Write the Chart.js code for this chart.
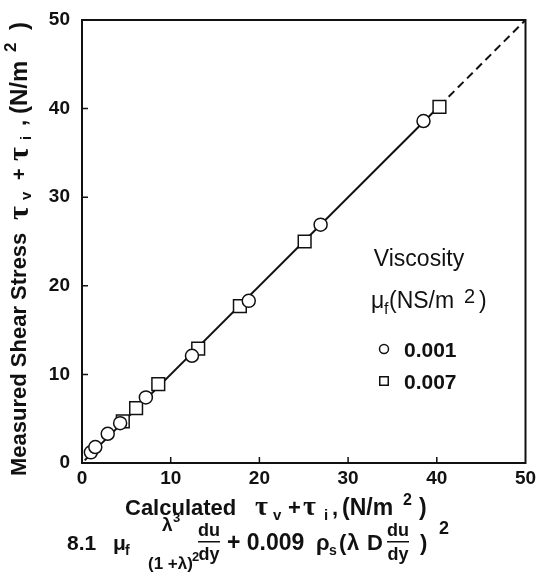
<!DOCTYPE html>
<html>
<head>
<meta charset="utf-8">
<script src="https://cdn.jsdelivr.net/npm/chart.js@4.4.1/dist/chart.umd.min.js"></script>
<style>
  html, body { margin: 0; padding: 0; background: #fff; }
  #wrap { width: 536px; height: 581px; }
</style>
</head>
<body>
<div id="wrap"><canvas id="shearChart" width="536" height="581"></canvas></div>
<script>
// valori
const circleX = [1.0, 1.5, 2.9, 4.3, 7.2, 12.4, 18.8, 26.9, 38.5];
const circleY = [1.2, 1.8, 3.3, 4.5, 7.4, 12.1, 18.3, 26.9, 38.6];
const squareX = [4.6, 6.1, 8.6, 13.1, 17.8, 25.1, 40.3];
const squareY = [4.7, 6.2, 8.9, 12.9, 17.7, 25.0, 40.2];
const fitX = [0.3, 40.3];
const fitY = [0.3, 40.3];
const dashX = [40.3, 50];
const dashY = [40.3, 50];
const tickValues = [0, 10, 20, 30, 40, 50];
const legendLabels = ['0.001', '0.007'];

const ink = '#111';
const sans = '"Liberation Sans", Arial, sans-serif';
const serif = '"Liberation Serif", "DejaVu Serif", serif';

function toPoints(xs, ys) {
    return xs.map((x, i) => ({ x: x, y: ys[i] }));
}

// ogni pezzo ha la sua posizione (at) lungo la riga
function drawRuns(ctx, runs, x, y) {
    runs.forEach(r => {
        ctx.font = r.font;
        ctx.fillText(r.text, x + r.at, y + (r.dy || 0));
    });
}

const B = (s) => 'bold ' + s + 'px ' + sans;
const T = (s) => 'bold ' + s + 'px ' + serif;

const framePlugin = {
    id: 'frame',
    beforeDatasetsDraw(chart) {
        const { ctx, chartArea: a, scales } = chart;
        ctx.save();
        ctx.strokeStyle = ink;
        ctx.lineWidth = 2;
        ctx.strokeRect(a.left, a.top, a.right - a.left, a.bottom - a.top);
        ctx.lineWidth = 1.5;
        ctx.beginPath();
        tickValues.slice(1, -1).forEach(v => {
            const px = scales.x.getPixelForValue(v);
            ctx.moveTo(px, a.bottom);
            ctx.lineTo(px, a.bottom - 6);
            const py = scales.y.getPixelForValue(v);
            ctx.moveTo(a.left, py);
            ctx.lineTo(a.left + 6, py);
        });
        ctx.stroke();
        ctx.restore();
    },
    afterDraw(chart) {
        const ctx = chart.ctx;
        ctx.save();
        ctx.fillStyle = ink;
        ctx.textBaseline = 'alphabetic';
        ctx.textAlign = 'left';

        // titolo asse y (ruotato)
        ctx.save();
        ctx.translate(26, 476);
        ctx.rotate(-Math.PI / 2);
        drawRuns(ctx, [
            { text: 'Measured Shear Stress', font: B(22), at: 0 },
            { text: 'τ', font: T(30), at: 256, dy: 2 },
            { text: 'v', font: B(15), at: 276, dy: 5 },
            { text: '+', font: B(20), at: 296 },
            { text: 'τ', font: T(30), at: 315, dy: 2 },
            { text: 'i', font: B(15), at: 336, dy: 5 },
            { text: ',', font: B(22), at: 350 },
            { text: '(N/m', font: B(24), at: 362, dy: 1 },
            { text: '2', font: B(17), at: 424, dy: -10 },
            { text: ')', font: B(24), at: 446, dy: 1 }
        ], 0, 0);
        ctx.restore();

        // titolo asse x
        drawRuns(ctx, [
            { text: 'Calculated', font: B(22), at: 0 },
            { text: 'τ', font: T(28), at: 130 },
            { text: 'v', font: B(15), at: 148, dy: 5 },
            { text: '+', font: B(22), at: 163 },
            { text: 'τ', font: T(28), at: 178 },
            { text: 'i', font: B(15), at: 199, dy: 5 },
            { text: ',', font: B(22), at: 207 },
            { text: '(N/m', font: B(23), at: 217 },
            { text: '2', font: B(16), at: 278, dy: -10 },
            { text: ')', font: B(23), at: 294 }
        ], 125, 515);

        // legenda
        ctx.textAlign = 'center';
        ctx.font = '23px ' + sans;
        ctx.fillText('Viscosity', 419, 266);
        ctx.textAlign = 'left';
        drawRuns(ctx, [
            { text: 'μ', font: '23px ' + sans, at: 0 },
            { text: 'f', font: '16px ' + sans, at: 13, dy: 6 },
            { text: '(NS/m', font: '23px ' + sans, at: 18 },
            { text: '2', font: '20px ' + sans, at: 93, dy: -5 },
            { text: ')', font: '23px ' + sans, at: 108 }
        ], 371, 308);
        const styles = ['circle', 'rect'];
        const rowY = [349, 381];
        legendLabels.forEach((lab, i) => {
            ctx.strokeStyle = ink;
            ctx.lineWidth = 1.5;
            ctx.fillStyle = '#fff';
            Chart.helpers.drawPoint(ctx, { pointStyle: styles[i], radius: i ? 6 : 4.5, borderWidth: 1.5 }, 384, rowY[i]);
            ctx.fillStyle = ink;
            ctx.font = B(21);
            ctx.fillText(lab, 404, rowY[i] + 8);
        });

        // espressione sotto il grafico
        drawRuns(ctx, [
            { text: '8.1', font: B(21), at: 0 },
            { text: 'μ', font: B(21), at: 46 },
            { text: 'f', font: B(14), at: 58, dy: 5 },
            { text: '+ 0.009', font: B(23), at: 160 },
            { text: 'ρ', font: B(22), at: 249 },
            { text: 's', font: B(14), at: 262, dy: 5 },
            { text: '(', font: B(22), at: 272 },
            { text: 'λ', font: B(22), at: 280 },
            { text: 'D', font: B(22), at: 300 },
            { text: ')', font: B(22), at: 353 },
            { text: '2', font: B(18), at: 372, dy: -16 }
        ], 67, 550);
        drawRuns(ctx, [
            { text: 'λ', font: B(19), at: 0 },
            { text: '3', font: B(13), at: 11, dy: -9 }
        ], 162, 531);
        drawRuns(ctx, [
            { text: '(1 +λ)', font: B(17), at: 0 },
            { text: '2', font: B(13), at: 44, dy: -8 }
        ], 148, 569);
        ctx.textAlign = 'center';
        ctx.font = B(18);
        [209, 398].forEach(cx => {
            ctx.fillText('du', cx, 536);
            ctx.fillText('dy', cx, 560);
            ctx.fillRect(cx - 11, 541, 22, 1.5);
        });
        ctx.restore();
    }
};

const ctx = document.getElementById('shearChart').getContext('2d');
const shearChart = new Chart(ctx, {
    type: 'scatter',
    data: {
        datasets: [
            {
                label: 'fit',
                data: toPoints(fitX, fitY),
                showLine: true,
                borderColor: ink,
                borderWidth: 2,
                pointRadius: 0,
                order: 3
            },
            {
                label: 'fit dashed',
                data: toPoints(dashX, dashY),
                showLine: true,
                borderColor: ink,
                borderWidth: 2,
                borderDash: [8, 5],
                pointRadius: 0,
                order: 3
            },
            {
                label: '0.007',
                data: toPoints(squareX, squareY),
                pointStyle: 'rect',
                pointRadius: 9,
                borderColor: ink,
                borderWidth: 1.5,
                backgroundColor: '#fff',
                order: 2
            },
            {
                label: '0.001',
                data: toPoints(circleX, circleY),
                pointStyle: 'circle',
                pointRadius: 6.5,
                borderColor: ink,
                borderWidth: 1.5,
                backgroundColor: '#fff',
                order: 1
            }
        ]
    },
    options: {
        responsive: false,
        animation: false,
        layout: { padding: { top: 20, right: 0, left: 0, bottom: 0 } },
        plugins: {
            legend: { display: false },
            tooltip: { enabled: false }
        },
        scales: {
            x: {
                type: 'linear',
                min: 0,
                max: 50,
                afterFit: s => { s.height = 118; s.paddingRight = 10; },
                afterBuildTicks: s => { s.ticks = tickValues.map(v => ({ value: v })); },
                grid: { display: false, drawTicks: false },
                border: { display: false },
                ticks: { color: ink, padding: 4, font: { family: sans, size: 19, weight: 'bold' } }
            },
            y: {
                type: 'linear',
                min: 0,
                max: 50,
                afterFit: s => { s.width = 82; s.paddingTop = 0; s.paddingBottom = 0; },
                afterBuildTicks: s => { s.ticks = tickValues.map(v => ({ value: v })); },
                grid: { display: false, drawTicks: false },
                border: { display: false },
                ticks: { color: ink, padding: 12, font: { family: sans, size: 19, weight: 'bold' } }
            }
        }
    },
    plugins: [framePlugin]
});
</script>
</body>
</html>
